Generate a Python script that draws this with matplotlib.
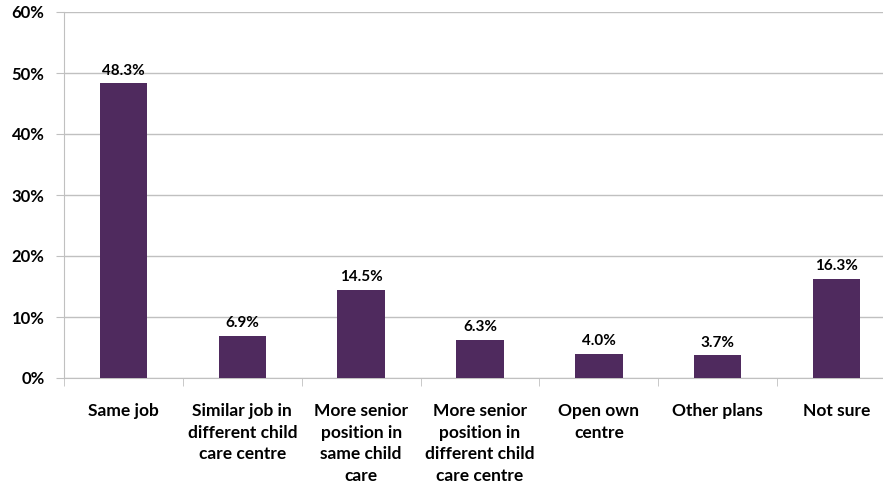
import numpy as np
import matplotlib.pyplot as plt

categories = ["Same job", "Similar job in\ndifferent child\ncare centre",
              "More senior\nposition in\nsame child\ncare",
              "More senior\nposition in\ndifferent child\ncare centre",
              "Open own\ncentre", "Other plans", "Not sure"]
values = [48.3, 6.9, 14.5, 6.3, 4.0, 3.7, 16.3]

plt.rcParams['font.family'] = ['Lato', 'DejaVu Sans']

fig = plt.figure(figsize=(8.83, 4.91), dpi=100)
ax = fig.add_axes([64/883, 113/491, 832/883, 366/491])

x = np.arange(len(values))
ax.bar(x, values, width=0.4, color="#4f2a5e", zorder=3)
for xi, v in zip(x, values):
    ax.text(xi, v + 0.9, "{:.1f}%".format(v), ha="center", va="bottom",
            fontsize=11, fontweight="bold")

ax.set_xlim(-0.5, len(values) - 0.5)
ax.set_ylim(0, 60)
ax.set_yticks(np.arange(0, 61, 10))
ax.set_yticklabels(["{}%".format(t) for t in range(0, 61, 10)],
                   fontsize=12, fontweight="bold")
ax.yaxis.grid(True, color="#c0c0c0", linewidth=1, zorder=0)

ax.set_xticks(x)
ax.set_xticklabels(categories, fontsize=12.5, fontweight="bold", linespacing=1.43,
                   va="top")
ax.tick_params(axis="x", length=0, pad=18)
ax.set_xticks(np.arange(-0.5, len(values), 1), minor=True)
ax.tick_params(axis="x", which="minor", length=6, color="#c0c0c0")
ax.tick_params(axis="y", length=6, color="#c0c0c0", pad=8)

for s in ["top", "right"]:
    ax.spines[s].set_visible(False)
ax.spines["left"].set_color("#c0c0c0")
ax.spines["bottom"].set_color("#c0c0c0")

fig.savefig("out.png", dpi=100)
